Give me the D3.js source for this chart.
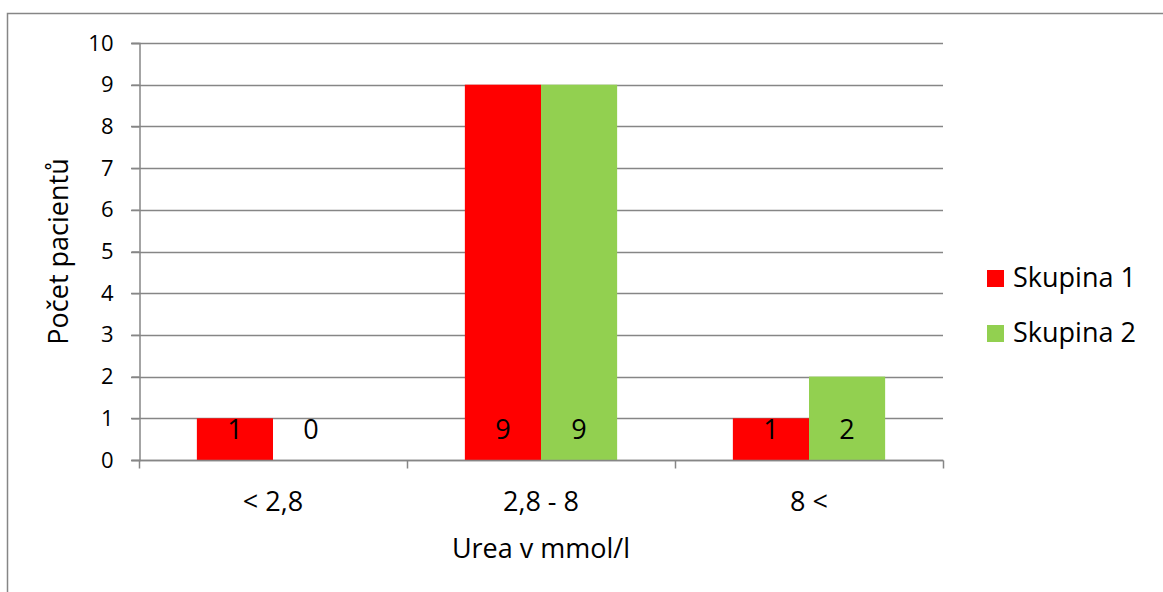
<!DOCTYPE html>
<html>
<head>
<meta charset="utf-8">
<script src="https://cdn.jsdelivr.net/npm/d3@7"></script>
<style>
  body { margin: 0; background: #fff; }
  svg { display: block; font-family: "Open Sans", "Noto Sans", sans-serif; }
</style>
</head>
<body>
<script>
var width = 1163;
var height = 592;

var categories = ["< 2,8", "2,8 - 8", "8 <"];
var seriesNames = ["Skupina 1", "Skupina 2"];
var skupina1 = [1, 9, 1];
var skupina2 = [0, 9, 2];
var colors = ["#ff0000", "#92d050"];
var yTicks = [0, 1, 2, 3, 4, 5, 6, 7, 8, 9, 10];

var plot = { left: 139, right: 943, top: 43, bottom: 460 };
var bigFont = 27;

var svg = d3.select("body").append("svg")
  .attr("width", width)
  .attr("height", height);

// chart frame
svg.append("rect")
  .attr("x", 7.5).attr("y", 13.5)
  .attr("width", width).attr("height", height)
  .attr("fill", "none")
  .attr("stroke", "#868686")
  .attr("stroke-width", 1.5);

var x = d3.scaleBand()
  .domain(categories)
  .range([plot.left, plot.right])
  .paddingInner(0).paddingOuter(0);

var inner = d3.scaleBand()
  .domain(seriesNames)
  .range([0, x.bandwidth()])
  .paddingInner(0)
  .paddingOuter(0.76);

var y = d3.scaleLinear()
  .domain([0, 10])
  .range([plot.bottom, plot.top]);

// gridlines
svg.append("g")
  .selectAll("line")
  .data(yTicks)
  .enter().append("line")
  .attr("x1", plot.left - 8)
  .attr("x2", plot.right)
  .attr("y1", function(d) { return Math.round(y(d)) + 0.5; })
  .attr("y2", function(d) { return Math.round(y(d)) + 0.5; })
  .attr("stroke", "#868686")
  .attr("stroke-width", 1.5);

// y axis
var yAxis = svg.append("g")
  .attr("transform", "translate(" + (plot.left + 0.5) + ",0)")
  .call(d3.axisLeft(y).tickValues(yTicks).tickSize(8).tickPadding(6));
yAxis.select(".domain").attr("stroke", "#868686").attr("stroke-width", 1.5);
yAxis.selectAll(".tick line").attr("stroke", "#868686").attr("stroke-width", 1.5);
yAxis.selectAll("text")
  .attr("font-size", 22)
  .attr("font-family", "'Open Sans', sans-serif")
  .attr("fill", "#000")
  .attr("x", -26);

// bars
var data = categories.map(function(c, i) {
  return { cat: c, values: [skupina1[i], skupina2[i]] };
});

var groups = svg.append("g")
  .selectAll("g")
  .data(data)
  .enter().append("g")
  .attr("transform", function(d) { return "translate(" + x(d.cat) + ",0)"; });

groups.selectAll("rect")
  .data(function(d) { return d.values.map(function(v, j) { return { s: seriesNames[j], v: v, j: j }; }); })
  .enter().append("rect")
  .attr("x", function(d) { return inner(d.s); })
  .attr("width", inner.bandwidth())
  .attr("y", function(d) { return y(d.v); })
  .attr("height", function(d) { return y(0) - y(d.v); })
  .attr("fill", function(d) { return colors[d.j]; });

groups.selectAll("text")
  .data(function(d) { return d.values.map(function(v, j) { return { s: seriesNames[j], v: v, j: j }; }); })
  .enter().append("text")
  .attr("x", function(d) { return inner(d.s) + inner.bandwidth() / 2; })
  .attr("y", y(0) - 21)
  .attr("text-anchor", "middle")
  .attr("font-size", bigFont)
  .attr("fill", "#000")
  .text(function(d) { return d.v; });

// x axis
var xAxis = svg.append("g")
  .attr("transform", "translate(0," + (plot.bottom + 0.5) + ")");
xAxis.append("line")
  .attr("x1", plot.left).attr("x2", plot.right + 0.5)
  .attr("stroke", "#868686").attr("stroke-width", 1.5);
var boundaries = categories.map(function(c) { return x(c); }).concat([plot.right]);
xAxis.selectAll("line.tk")
  .data(boundaries)
  .enter().append("line")
  .attr("class", "tk")
  .attr("x1", function(d) { return d + 0.5; })
  .attr("x2", function(d) { return d + 0.5; })
  .attr("y1", 0).attr("y2", 8)
  .attr("stroke", "#868686").attr("stroke-width", 1.5);
xAxis.selectAll("text")
  .data(categories)
  .enter().append("text")
  .attr("x", function(d) { return x(d) + x.bandwidth() / 2; })
  .attr("y", 50)
  .attr("text-anchor", "middle")
  .attr("font-size", bigFont)
  .attr("fill", "#000")
  .text(function(d) { return d; });

// axis titles
svg.append("text")
  .attr("x", (plot.left + plot.right) / 2)
  .attr("y", 558)
  .attr("text-anchor", "middle")
  .attr("font-size", bigFont)
  .attr("fill", "#000")
  .text("Urea v mmol/l");

svg.append("text")
  .attr("transform", "translate(68," + ((plot.top + plot.bottom) / 2) + ") rotate(-90)")
  .attr("text-anchor", "middle")
  .attr("font-size", bigFont)
  .attr("fill", "#000")
  .text("Počet pacientů");

// legend
var legend = svg.append("g")
  .selectAll("g")
  .data(seriesNames)
  .enter().append("g")
  .attr("transform", function(d, i) { return "translate(987," + (270 + i * 55) + ")"; });
legend.append("rect")
  .attr("width", 17).attr("height", 17)
  .attr("fill", function(d, i) { return colors[i]; });
legend.append("text")
  .attr("x", 26).attr("y", 17)
  .attr("font-size", bigFont)
  .attr("fill", "#000")
  .text(function(d) { return d; });
</script>
</body>
</html>
